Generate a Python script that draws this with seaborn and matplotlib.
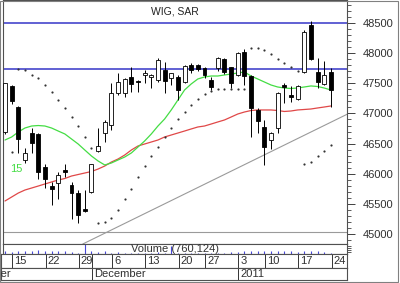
import numpy as np
import pandas as pd
import matplotlib
matplotlib.use("Agg")
import matplotlib.pyplot as plt
from matplotlib.patches import Rectangle
from matplotlib.ticker import MultipleLocator
import seaborn as sns

# ---------------- data ----------------
opens  = [46690, 47455, 47110, 46230, 46670, 46660, 46110, 45800, 45850, 46070,
          45815, 45680, 45410, 45700, 46380, 46670, 46810, 47335, 47335, 47610,
          47540, 47640, 47610, 47555, 47720, 47585, 47610, 47525, 47800, 47800,
          47760, 47555, 47750, 47900, 47765, 47640, 48025, 47620, 47060, 46770,
          46560, 46755, 47475, 47305, 47235, 47690, 48465, 47695, 47490, 47695]
highs  = [47510, 47480, 47120, 46430, 46760, 46670, 46160, 45860, 46035, 46160,
          45870, 45730, 45730, 46170, 46755, 46890, 47500, 47670, 47590, 47775,
          47555, 47720, 47650, 47915, 47860, 47665, 47640, 47800, 47830, 47820,
          47775, 47610, 47930, 47920, 47775, 48025, 48065, 47640, 47085, 46890,
          46700, 47360, 47500, 47455, 47480, 48380, 48540, 47915, 47875, 47750]
lows   = [46660, 47160, 46340, 46180, 46350, 45910, 45765, 45480, 45590, 45940,
          45245, 45185, 45370, 45680, 46365, 46530, 46725, 47300, 47280, 47360,
          47360, 47500, 47420, 47525, 47335, 47470, 47225, 47500, 47665, 47700,
          47585, 47390, 47700, 47650, 47415, 47620, 47470, 46615, 46670, 46145,
          46405, 46670, 47170, 47195, 47220, 47665, 47885, 47415, 47470, 47110]
closes = [47500, 47200, 46570, 46350, 46515, 46025, 45915, 45740, 45980, 46035,
          45680, 45320, 45380, 46160, 46465, 46865, 47340, 47515, 47565, 47485,
          47520, 47665, 47640, 47885, 47530, 47665, 47390, 47785, 47720, 47735,
          47640, 47445, 47915, 47695, 47500, 48000, 47620, 47085, 46880, 46440,
          46680, 47345, 47445, 47280, 47455, 48355, 47900, 47525, 47640, 47390]

ma15 = [46560, 46610, 46693, 46759, 46792, 46800, 46792, 46759, 46709, 46660,
        46577, 46494, 46394, 46295, 46212, 46146, 46179, 46229, 46278, 46345,
        46444, 46544, 46660, 46792, 46908, 47058, 47223, 47389, 47489, 47572,
        47605, 47621, 47621, 47638, 47654, 47671, 47688, 47621, 47572, 47522,
        47472, 47439, 47422, 47414, 47422, 47439, 47456, 47447, 47422, 47389]
ma45 = [45549, 45615, 45681, 45731, 45764, 45797, 45831, 45864, 45897, 45922,
        45963, 45988, 46013, 46038, 46079, 46129, 46195, 46245, 46311, 46394,
        46461, 46494, 46527, 46560, 46610, 46643, 46676, 46709, 46743, 46776,
        46792, 46825, 46859, 46892, 46941, 46991, 47024, 47049, 47058, 47058,
        47058, 47049, 47033, 47041, 47058, 47066, 47074, 47091, 47107, 47124]
sar = [np.nan, 46366, 47732, 47721, 47638, 47583, 47472, 47361, 47223, 47096,
       46946, 46792, 46605, 46428, 45179, 45206, 45272, 45400, 45582, 45748,
       45952, 46129, 46295, 46449, 46605, 46764, 46908, 47029, 47140, 47235,
       47318, 47380, 47400, 47400, 47400, 47400, 47400, 48090, 48090, 48052,
       47981, 47903, 47832, 47765, 47704, 46162, 46200, 46295, 46378, 46477]
volume = [3, 2, 3, 3, 3, 4, 3, 3, 3, 3, 2, 1, 10, 3, 2, 3, 1, 2, 1, 1,
          1, 1, 1, 2, 1, 8, 1, 1, 1, 1, 1, 1, 1, 1, 2, 2, 3, 3, 3, 3,
          3, 3, 3, 3, 2, 3, 3, 3, 2, 1]

levels = [48500, 47730]
base_level = 45040
trend_x = [11.7, 51.5]
trend_y = [44836, 46990]

day_labels = ["15", "22", "29", "6", "13", "20", "27", "3", "10", "17", "24"]
day_pos = [1, 6, 11, 16, 21, 26, 30, 35, 39, 44, 49]
month_labels = ["November", "December", "2011"]
month_pos = [0, 13, 35]
price_ticks = [45000, 45500, 46000, 46500, 47000, 47500, 48000, 48500]

# ---------------- style ----------------
sns.set_theme(style="white")
plt.rcParams['font.family'] = ['Liberation Sans', 'DejaVu Sans']

W, H = 400, 283
def px2idx(px):
    return (px - 5) / 6.65

def fax(l, t, r, b):
    return fig.add_axes([l / W, 1 - b / H, (r - l) / W, (b - t) / H])

fig = plt.figure(figsize=(4.0, 2.83), dpi=100)
fig.patch.set_facecolor('white')

# ---------------- price panel ----------------
ax = fax(3, 0, 347, 244)
ax.set_facecolor('white')
xl = (px2idx(3), px2idx(347))
idx = np.arange(len(opens))
df = pd.DataFrame(dict(idx=idx, open=opens, high=highs, low=lows, close=closes,
                       ma15=ma15, ma45=ma45, sar=sar))

for lv in levels:
    ax.axhline(lv, color='#3535c8', lw=1.1, zorder=1)
ax.axhline(base_level, color='#9a9a9a', lw=0.8, zorder=1)
ax.plot(trend_x, trend_y, color='#9a9a9a', lw=0.8, zorder=1)

sns.lineplot(data=df, x='idx', y='ma45', color='#e04848', lw=0.9, ax=ax, zorder=2)
sns.lineplot(data=df, x='idx', y='ma15', color='#44dd44', lw=0.9, ax=ax, zorder=2)
sns.scatterplot(data=df, x='idx', y='sar', s=2.5, color='#333333', linewidth=0,
                ax=ax, zorder=2)

o = df['open'].values; c = df['close'].values
up = c >= o
ax.vlines(df['idx'], df['low'], df['high'], color='black', lw=0.7, zorder=3)
bottom = np.minimum(o, c)
height = np.maximum(np.abs(c - o), 14)
ax.bar(df['idx'], height, bottom=bottom, width=0.6,
       color=np.where(up, 'white', 'black'), edgecolor='black', linewidth=0.6,
       zorder=4)

ax.text((175 - 3) / 344, 1 - 11 / 244, "WIG, SAR", transform=ax.transAxes,
        ha='center', va='center', fontsize=7.5, color='#222222')
ax.text(7 / 344, 1 - 169 / 244, "15", transform=ax.transAxes, ha='left',
        va='center', fontsize=8, color='#44dd44')

ax.set_xlim(*xl)
ax.set_ylim(44836, 48881)
ax.set_xlabel(''); ax.set_ylabel('')
ax.set_xticks([])
ax.yaxis.tick_right()
ax.set_yticks(price_ticks)
ax.set_yticklabels([str(t) for t in price_ticks])
ax.yaxis.set_minor_locator(MultipleLocator(100))
ax.tick_params(axis='y', which='major', direction='out', length=6, width=0.7,
               color='#404040', labelsize=8, labelcolor='#303030', pad=5,
               right=True, left=False)
ax.tick_params(axis='y', which='minor', direction='out', length=3, width=0.6,
               color='#404040', right=True, left=False)
for s in ax.spines.values():
    s.set_color('#505050'); s.set_linewidth(0.8)

# ---------------- volume panel ----------------
vax = fax(3, 244, 347, 254)
vax.vlines(idx, 0, volume, color='#4848d8', lw=0.8)
vax.set_xlim(*xl)
vax.set_ylim(0, 10.5)
vax.set_xticks([])
vax.yaxis.tick_right()
vax.set_yticks([2, 4, 6, 8])
vax.set_yticklabels([])
vax.tick_params(axis='y', direction='out', length=3, width=0.6, color='#404040',
                right=True, left=False)
vax.text(0.5, 0.45, "Volume (760,124)", transform=vax.transAxes, ha='center',
         va='center', fontsize=8, color='#333333')
for s in vax.spines.values():
    s.set_color('#505050'); s.set_linewidth(0.8)

# ---------------- day row ----------------
dax = fax(1, 254, 347, 267.5)
dxl = (px2idx(1), px2idx(347))
seps = sorted(set(day_pos + month_pos[1:]))
dax.vlines([p + 0.1 for p in seps], 0, 1, color='#333333', lw=0.7)
for lab, p in zip(day_labels, day_pos):
    dax.text(p + 0.4, 0.45, lab, ha='left', va='center', fontsize=8,
             color='#303030', clip_on=True)
dax.set_xlim(*dxl); dax.set_ylim(0, 1)
dax.set_xticks([]); dax.set_yticks([])
for s in dax.spines.values():
    s.set_color('#505050'); s.set_linewidth(0.8)

# ---------------- month row ----------------
max_ = fax(1, 267.5, 347, 280)
max_.vlines([p + 0.1 for p in month_pos[1:]], 0, 1, color='#333333', lw=0.7)
max_.text(px2idx(10.5), 0.45, month_labels[0], ha='right', va='center',
          fontsize=8, color='#303030', clip_on=True)
for lab, p in zip(month_labels[1:], month_pos[1:]):
    max_.text(p + 0.4, 0.45, lab, ha='left', va='center', fontsize=8,
              color='#303030', clip_on=True)
max_.set_xlim(*dxl); max_.set_ylim(0, 1)
max_.set_xticks([]); max_.set_yticks([])
for s in max_.spines.values():
    s.set_color('#505050'); s.set_linewidth(0.8)

fig.patches.append(Rectangle((0.001, 0.002), 0.994, 0.996, transform=fig.transFigure,
                             fill=False, edgecolor='#808080', lw=0.8))

fig.savefig("out.png", dpi=100, facecolor='white')
